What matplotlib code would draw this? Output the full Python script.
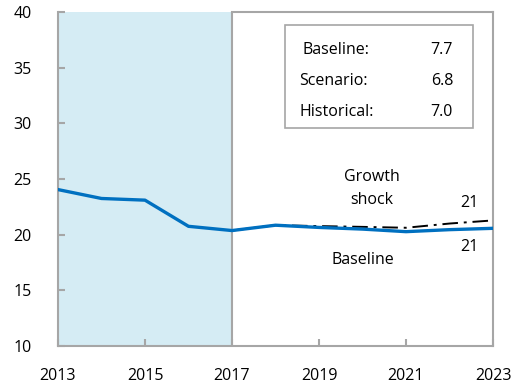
import matplotlib
matplotlib.use("Agg")
import matplotlib.pyplot as plt

plt.rcParams['font.family'] = ['Open Sans', 'DejaVu Sans']

# Debt ratio path: history 2013-2017, baseline and growth-shock projections to 2023
years_hist = [2013, 2014, 2015, 2016, 2017]
hist = [24.05, 23.25, 23.1, 20.75, 20.37]
years_proj = [2017, 2018, 2019, 2020, 2021, 2022, 2023]
baseline = [20.37, 20.85, 20.65, 20.5, 20.27, 20.45, 20.57]
shock = [20.37, 20.85, 20.77, 20.7, 20.62, 21.0, 21.28]

box_labels = ["Baseline:", "Scenario:", "Historical:"]
box_values = ["7.7", "6.8", "7.0"]

xticks = [2013, 2015, 2017, 2019, 2021, 2023]
yticks = [10, 15, 20, 25, 30, 35, 40]

grey = '#A6A6A6'
blue = '#0070C0'
fs = 11.5

fig = plt.figure(figsize=(5.11, 3.83), dpi=100)
ax = fig.add_axes([58/511, 1 - 346/383, (493-58)/511, (346-12)/383])

ax.axvspan(2013, 2017, color='#D5ECF4', zorder=0, lw=0)
ax.axvline(2017, color=grey, lw=1.5, zorder=1)
ax.axhline(40, xmin=0.4, xmax=1, color=grey, lw=1.5, zorder=1, clip_on=False)

ax.plot(years_proj, shock, color='black', lw=1.4, dashes=[8, 3, 1.5, 3], zorder=3)
ax.plot(years_hist + years_proj[1:], hist + baseline[1:], color=blue, lw=2.4, zorder=4)

ax.set_xlim(2013, 2023)
ax.set_ylim(10, 40)
ax.set_xticks(xticks)
ax.set_yticks(yticks)
ax.tick_params(direction='in', length=5, width=1.5, color=grey, labelsize=fs)
ax.tick_params(axis='x', pad=16)
ax.tick_params(axis='y', pad=19)
for side in ['left', 'bottom', 'right']:
    ax.spines[side].set_color(grey)
    ax.spines[side].set_linewidth(1.5)
ax.spines['top'].set_visible(False)

# Summary box
box = plt.Rectangle((285/511, 1 - 128/383), (473-285)/511, (128-25)/383,
                    transform=fig.transFigure, fill=True, facecolor='white',
                    edgecolor=grey, lw=1.2, zorder=5)
fig.patches.append(box)
for i, (lab, val) in enumerate(zip(box_labels, box_values)):
    yy = 1 - (50 + 31 * i) / 383
    xl = 302 if i == 0 else 299
    fig.text(xl/511, yy, lab, fontsize=fs, va='center', ha='left', zorder=6)
    fig.text(453/511, yy, val, fontsize=fs, va='center', ha='right', zorder=6)

ax.text(2020.22, 24.15, "Growth\nshock", fontsize=fs, ha='center', va='center', linespacing=1.55)
ax.text(2020.0, 17.75, "Baseline", fontsize=fs, ha='center', va='center')
ax.text(2022.45, 22.85, "21", fontsize=fs, ha='center', va='center')
ax.text(2022.45, 18.9, "21", fontsize=fs, ha='center', va='center')

fig.savefig('out.png', dpi=100)
